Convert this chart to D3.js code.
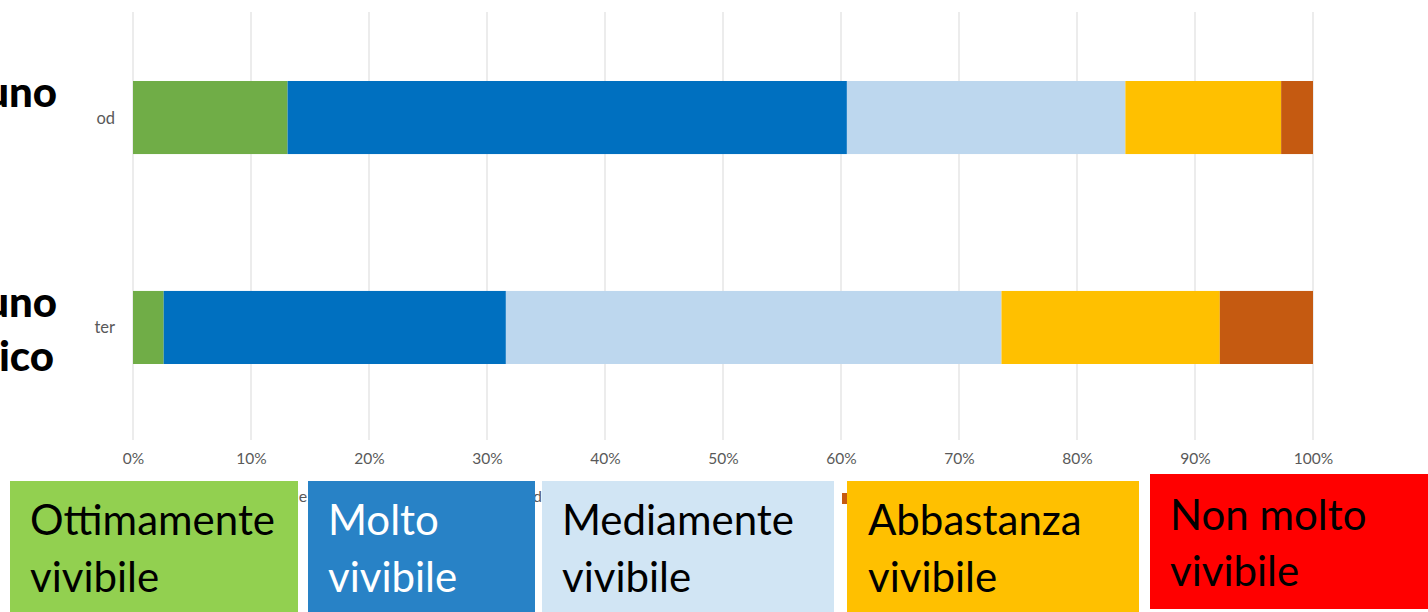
<!DOCTYPE html>
<html>
<head>
<meta charset="utf-8">
<script src="https://cdn.jsdelivr.net/npm/d3@7"></script>
<style>
  body { margin: 0; background: #fff; }
  svg { display: block; }
</style>
</head>
<body>
<svg id="chart" width="1428" height="612"></svg>
<script>
// categories (truncated in the source picture) and their big side labels
var categories = ["od", "ter"];
var sideLabels = [["uno"], ["uno", "ico"]];

// series, one value (%) per category
var seriesNames = ["Ottimamente vivibile", "Molto vivibile", "Mediamente vivibile", "Abbastanza vivibile", "Non molto vivibile"];
var ottimamente = [13.1, 2.6];
var molto = [47.4, 29.0];
var mediamente = [23.6, 42.0];
var abbastanza = [13.2, 18.5];
var nonMolto = [2.7, 7.9];

var barColors = ["#70AD47", "#0070C0", "#BDD7EE", "#FFC000", "#C55A11"];
var tickValues = [0, 10, 20, 30, 40, 50, 60, 70, 80, 90, 100];

// the big coloured boxes pasted over the legend
var boxLabels = [["Ottimamente", "vivibile"], ["Molto", "vivibile"], ["Mediamente", "vivibile"], ["Abbastanza", "vivibile"], ["Non molto", "vivibile"]];
var boxColors = ["#92D050", "#2882C6", "#D1E5F4", "#FFC000", "#FF0000"];
var boxTextColors = ["#000", "#fff", "#000", "#000", "#000"];

var svg = d3.select("#chart");

var x = d3.scaleLinear().domain([0, 100]).range([133, 1313]);
var y = d3.scaleBand().domain(categories).range([12, 433]).paddingInner(0.652).paddingOuter(0.3286);

var rows = categories.map(function(c, i) {
  return {
    cat: c,
    "Ottimamente vivibile": ottimamente[i],
    "Molto vivibile": molto[i],
    "Mediamente vivibile": mediamente[i],
    "Abbastanza vivibile": abbastanza[i],
    "Non molto vivibile": nonMolto[i]
  };
});
var stacked = d3.stack().keys(seriesNames)(rows);

// gridlines
svg.append("g")
  .selectAll("line")
  .data(tickValues)
  .enter()
  .append("line")
  .attr("x1", function(d) { return x(d); })
  .attr("x2", function(d) { return x(d); })
  .attr("y1", 12)
  .attr("y2", 440)
  .attr("stroke", "#D9D9D9")
  .attr("stroke-width", 1);

// stacked bars
svg.append("g")
  .selectAll("g")
  .data(stacked)
  .enter()
  .append("g")
  .attr("fill", function(d, i) { return barColors[i]; })
  .selectAll("rect")
  .data(function(d) { return d; })
  .enter()
  .append("rect")
  .attr("x", function(d) { return x(d[0]); })
  .attr("width", function(d) { return x(d[1]) - x(d[0]); })
  .attr("y", function(d) { return y(d.data.cat); })
  .attr("height", y.bandwidth());

// x axis labels
var xAxis = d3.axisBottom(x)
  .tickValues(tickValues)
  .tickFormat(function(d) { return d + "%"; })
  .tickSize(0)
  .tickPadding(0);

var gx = svg.append("g").attr("transform", "translate(0,453)").call(xAxis);
gx.select(".domain").remove();
gx.selectAll("text")
  .attr("fill", "#595959")
  .style("font-family", "Lato, 'Open Sans', sans-serif")
  .style("font-size", "15.5px");

// category labels (truncated)
svg.append("g")
  .selectAll("text")
  .data(categories)
  .enter()
  .append("text")
  .attr("x", 115)
  .attr("y", function(d) { return y(d) + y.bandwidth() / 2 + 6; })
  .attr("text-anchor", "end")
  .attr("fill", "#595959")
  .style("font-family", "Lato, 'Open Sans', sans-serif")
  .style("font-size", "16.5px")
  .text(function(d) { return d; });

// big side labels, cut off at the left edge
var side = svg.append("g")
  .selectAll("text")
  .data(categories)
  .enter()
  .append("text")
  .attr("text-anchor", "end")
  .style("font-family", "Lato, sans-serif")
  .style("font-weight", "900")
  .style("font-size", "42px")
  .attr("fill", "#000");

side.each(function(d, i) {
  var t = d3.select(this);
  var base = i === 0 ? 107 : 317;
  sideLabels[i].forEach(function(line, j) {
    t.append("tspan")
      .attr("x", j === 0 ? 57 : 54)
      .attr("y", base + j * 54)
      .text(line);
  });
});

// remnants of the original legend peeking out behind the boxes
svg.append("text").attr("x", 295).attr("y", 502).attr("fill", "#595959")
  .style("font-family", "Lato, sans-serif").style("font-size", "16px").text("le");
svg.append("text").attr("x", 533).attr("y", 502).attr("fill", "#595959")
  .style("font-family", "Lato, sans-serif").style("font-size", "16px").text("di");
svg.append("rect").attr("x", 842).attr("y", 493).attr("width", 6).attr("height", 11).attr("fill", barColors[4]);

// legend boxes
var boxes = [
  { x: 10, y: 481, w: 288, h: 131, tx: 30, ty: 535, dy: 57 },
  { x: 308, y: 481, w: 227, h: 131, tx: 328, ty: 535, dy: 57 },
  { x: 542, y: 481, w: 292, h: 131, tx: 562, ty: 535, dy: 57 },
  { x: 847, y: 481, w: 292, h: 131, tx: 868, ty: 535, dy: 57 },
  { x: 1150, y: 474, w: 278, h: 135, tx: 1170, ty: 530, dy: 56 }
];

var legend = svg.append("g")
  .selectAll("g")
  .data(boxes)
  .enter()
  .append("g");

legend.append("rect")
  .attr("x", function(d) { return d.x; })
  .attr("y", function(d) { return d.y; })
  .attr("width", function(d) { return d.w; })
  .attr("height", function(d) { return d.h; })
  .attr("fill", function(d, i) { return boxColors[i]; });

legend.each(function(d, i) {
  var t = d3.select(this).append("text")
    .attr("fill", boxTextColors[i])
    .style("font-family", "Lato, sans-serif")
    .style("font-size", "42px");
  boxLabels[i].forEach(function(line, j) {
    t.append("tspan")
      .attr("x", d.tx)
      .attr("y", d.ty + j * d.dy)
      .text(line);
  });
});
</script>
</body>
</html>
